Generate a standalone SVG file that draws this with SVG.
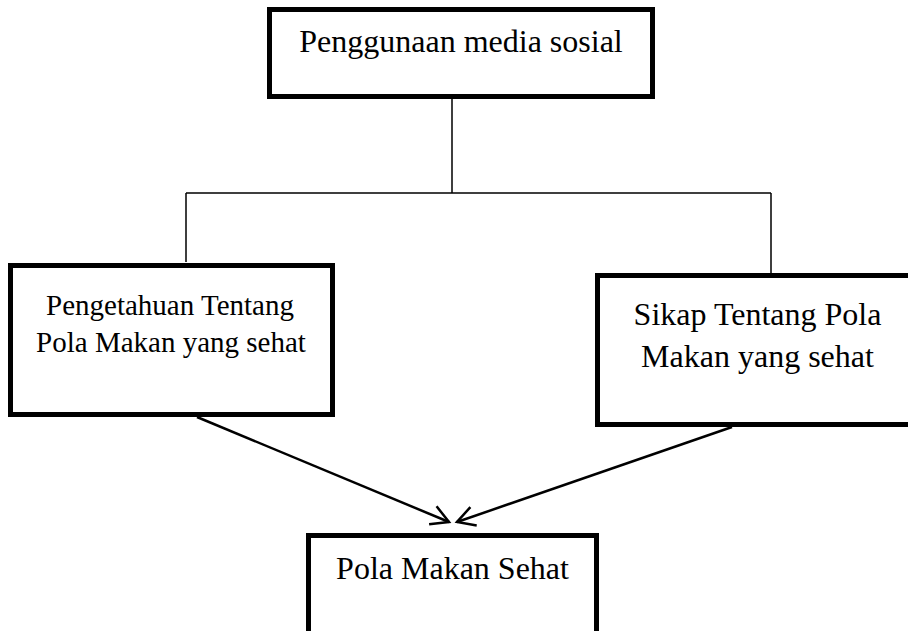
<svg xmlns="http://www.w3.org/2000/svg" width="908" height="631" viewBox="0 0 908 631">
<style>
.box{fill:#fff;stroke:#000;stroke-width:5}
.t{font-family:"Liberation Serif","Times New Roman",serif;fill:#000;text-anchor:middle}
.thin{fill:none;stroke:#000;stroke-width:1.5}
.arr{fill:none;stroke:#000;stroke-width:2.5}
</style>
<defs>
<marker id="ah" viewBox="-22 -12 24 24" refX="0" refY="0" markerWidth="24" markerHeight="24" markerUnits="userSpaceOnUse" orient="auto" overflow="visible">
<path d="M-17.5,-9.7 L0,0 L-17.5,9.7" fill="none" stroke="#000" stroke-width="2.5"/>
</marker>
</defs>
<rect width="908" height="631" fill="#fff"/>
<g id="connectors">
<path class="thin" d="M452,99 V193 M186,193 H771 M186,193 V262 M771,193 V273"/>
<path class="arr" d="M197,417 L449,522" marker-end="url(#ah)"/>
<path class="arr" d="M732,427 L457,522" marker-end="url(#ah)"/>
</g>
<g id="node-media">
<rect class="box" x="269.5" y="9.5" width="383" height="87"/>
<text class="t" x="461" y="52" font-size="32">Penggunaan media sosial</text>
</g>
<g id="node-pengetahuan">
<rect class="box" x="10.5" y="265.5" width="322" height="149"/>
<text class="t" x="170" y="315" font-size="29">Pengetahuan Tentang</text>
<text class="t" x="171" y="352" font-size="29">Pola Makan yang sehat</text>
</g>
<g id="node-sikap">
<rect class="box" x="597.5" y="275.5" width="330" height="149"/>
<text class="t" x="757.5" y="325" font-size="32">Sikap Tentang Pola</text>
<text class="t" x="757.5" y="367" font-size="32">Makan yang sehat</text>
</g>
<g id="node-pola">
<rect class="box" x="308.5" y="535.5" width="288" height="110"/>
<text class="t" x="452.5" y="579" font-size="32">Pola Makan Sehat</text>
</g>
</svg>
